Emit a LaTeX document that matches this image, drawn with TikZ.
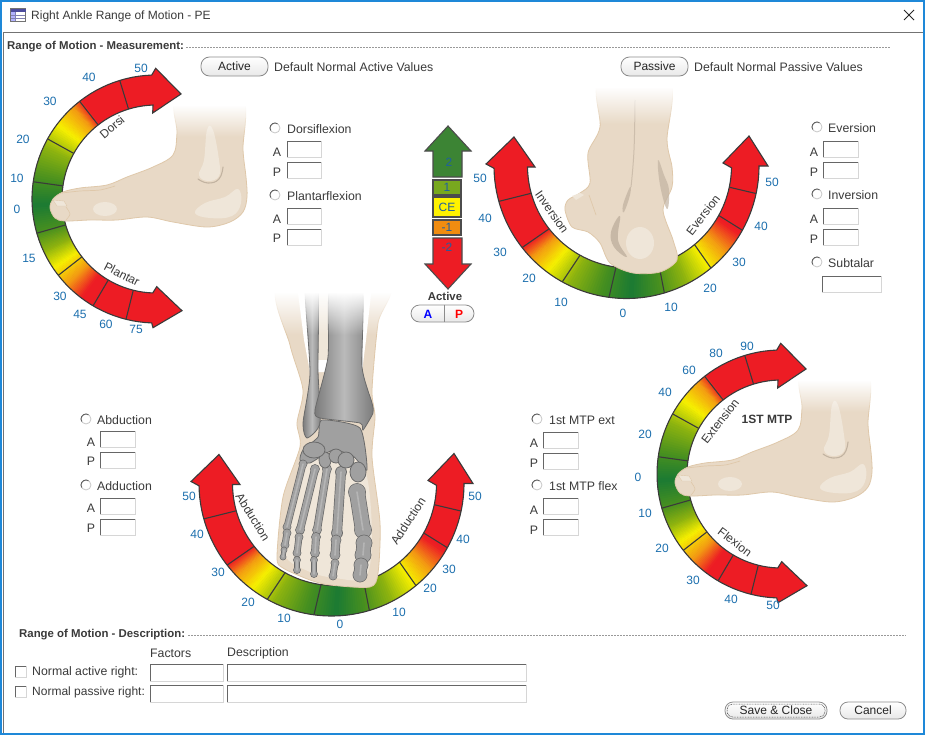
\documentclass[tikz,border=0pt]{standalone}
\usepackage{fontspec}
\setmainfont{Liberation Sans}
\usetikzlibrary{fadings}
\definecolor{gred}{HTML}{ED1C24}
\definecolor{gorange}{HTML}{F39A12}
\definecolor{gyellow}{HTML}{F6F000}
\definecolor{glime}{HTML}{8DB30F}
\definecolor{gmid}{HTML}{48901F}
\definecolor{gdark}{HTML}{1B7A33}
\definecolor{goutline}{HTML}{3A3A3A}
\definecolor{numblue}{HTML}{1C6FAE}
\definecolor{legblue}{HTML}{1F5FA0}
\definecolor{legend2}{HTML}{3C8434}
\definecolor{legend1}{HTML}{78A81E}
\definecolor{legendm}{HTML}{F08C10}
\definecolor{txt}{HTML}{3A3A3A}
\definecolor{skin}{HTML}{E8D9C6}
\definecolor{skinedge}{HTML}{DFC8AA}
\definecolor{skinlight}{HTML}{EFE6D9}
\definecolor{skinshade}{HTML}{C2B3A1}
\definecolor{bonefill}{HTML}{A0A0A0}
\definecolor{bonelight}{HTML}{BEBEBE}
\definecolor{boneedge}{HTML}{6A6A6A}
\definecolor{bluewin}{HTML}{1E88D8}
\tikzset{
  lab/.style={font=\fontsize{12.3}{14}\selectfont,inner sep=0pt,text=txt},
  labw/.style={lab,anchor=west},
  labbold/.style={font=\bfseries\fontsize{11.4}{14}\selectfont,inner sep=0pt,text=txt},
  num/.style={font=\fontsize{12}{14}\selectfont,inner sep=0pt,text=numblue},
  gtxt/.style={font=\fontsize{12}{14}\selectfont,inner sep=0pt,text=txt},
  gline/.style={draw=goutline,line width=1.1pt},
  btn/.style={draw=black!45,line width=.8pt,rounded corners=8.5pt,top color=white,bottom color=black!9,
     minimum height=19pt,inner sep=0pt,font=\fontsize{12}{14}\selectfont,text=black!85},
  dashrule/.style={draw=black!40,line width=.5pt,dash pattern=on 2pt off 1pt},
  skinpath/.style={fill=skin,draw=skinedge,line width=.8pt},
  lbox/.style={draw=black!70,line width=1.1pt},
  legbox/.style={draw=black!70,line width=1.1pt,minimum width=28pt,inner sep=0pt,font=\fontsize{12}{14}\selectfont,text=legblue},
  bonepath/.style={left color=black!52,right color=black!52,middle color=black!27,draw=boneedge,line width=.8pt},
  tarsal/.style={fill=bonefill,draw=boneedge,line width=.8pt},
}
\newcommand\gslices[7]{%
  \foreach \aa/\ca/\ab/\cb in {#7}{%
    \foreach \t in {0,...,11}{%
      \pgfmathsetmacro\pa{\aa+(\ab-\aa)*\t/12}%
      \pgfmathsetmacro\pb{\aa+(\ab-\aa)*(\t+1.25)/12}%
      \pgfmathsetmacro\pc{\t*100/12+4}%
      \fill[fill={\cb!\pc!\ca}] ({#1+(#3)*cos(\pa)},{#2-(#3)*sin(\pa)}) -- ({#1+(#3)*cos(\pb)},{#2-(#3)*sin(\pb)})
        -- ({#4+(#6)*cos(\pb)},{#5-(#6)*sin(\pb)}) -- ({#4+(#6)*cos(\pa)},{#5-(#6)*sin(\pa)}) -- cycle;
    }%
  }%
}
\newcommand\gticks[7]{%
  \foreach \a in {#7}{\draw[gline] ({#1+(#3)*cos(\a)},{#2-(#3)*sin(\a)}) -- ({#4+(#6)*cos(\a)},{#5-(#6)*sin(\a)});}%
}
\def\sidepath{(155.7,68.3) -- (181,94) -- (152.7,113) -- (153,105)
  -- plot[domain=92:268,samples=60] ({156+94*cos(\x)},{199-94*sin(\x)})
  -- (156.7,286.7) -- (182,310.7) -- (153,327.7)
  -- plot[domain=268:92,samples=60] ({156+124*cos(\x)},{199-124*sin(\x)}) -- cycle}
\def\upath{(514,137) -- (535,167) -- (527.5,167)
  -- plot[domain=181:359,samples=70] ({629.5+102*cos(\x)},{166-102*sin(\x)})
  -- (723,163) -- (749,136) -- (768,166) -- (759,166)
  -- plot[domain=359:181,samples=70] ({626.5+132.5*cos(\x)},{166-132.5*sin(\x)}) -- (486,164) -- cycle}
\newcommand\sidegauge{%
  \fill[gred] \sidepath;
  \gslices{156}{199}{124}{156}{199}{94}{127/gred/132/gorange,132/gorange/143/gyellow,143/gyellow/155/glime,155/glime/170/gmid,170/gmid/183/gdark,183/gdark/196/gmid,196/gmid/205/glime,205/glime/214/gyellow,214/gyellow/224/gorange,224/gorange/233/gred}
  \draw[gline] \sidepath;
  \gticks{156}{199}{124}{156}{199}{94}{107,128,151,172,196,218,239.5,256}
}
\newcommand\ugauge{%
  \fill[gred] \upath;
  \gslices{626.5}{166}{132.5}{629.5}{166}{102}{218/gred/224/gorange,224/gorange/233/gyellow,233/gyellow/244/glime,244/glime/258/gmid,258/gmid/272/gdark,272/gdark/285/gmid,285/gmid/297/glime,297/glime/309/gyellow,309/gyellow/319/gorange,319/gorange/329/gred}
  \draw[gline] \upath;
  \gticks{626.5}{166}{132.5}{629.5}{166}{102}{195.5,218,241,262.4,286.6,309.6,331,348}
}
\newcommand\sidefoot{%
  \begin{scope}
  \clip (40,106) rectangle (256,236);
  \path[skinpath] plot[smooth cycle,tension=.55] coordinates{(178,96)(177,133)(173,155)(153,167)(127,177)(107,185)(80,188)(63,192)(53,199)(50,208)(55,218)(65,221)(90,220)(117,220)(147,217)(173,222)(207,227)(230,222)(243,212)(247,197)(246,177)(243,150)(241,96)};
  \end{scope}
  \fill[skinlight] plot[smooth cycle,tension=.7] coordinates{(195,213)(205,203)(225,197)(238,189)(241,203)(232,216)(210,218)};
  \fill[skinlight] (105,209) ellipse (12pt and 7pt);
  \fill[skinlight] plot[smooth cycle,tension=.7] coordinates{(207,130)(204,160)(199,175)(208,181)(219,176)(219,160)(213,130)};
  \draw[skinshade,line width=1.1pt,line cap=round] plot[smooth,tension=.8] coordinates{(198,179)(208,183)(219,179)(223,167)};
  \fill[skinlight,draw=skinedge,line width=.4pt] (53,200) -- (64,201) -- (67,206) -- (57,206) -- cycle;
  \draw[skinedge,line width=.7pt] plot[smooth] coordinates{(62,193)(80,191)(100,190)(115,186)};
  \draw[skinedge,line width=.6pt] plot[smooth] coordinates{(66,207)(70,214)(66,220)};
  \fill[white,path fading=south] (170,105) rectangle (252,137);
}
\newcommand\inbox[4]{%
  \fill[white] (#1,#2) rectangle (#3,#4);
  \draw[black!16,line width=.9pt] (#3,#2) -- (#3,#4) -- (#1,#4);
  \draw[black!60,line width=1pt] (#1,#4) -- (#1,#2) -- (#3,#2);
}
\newcommand\radio[2]{%
  \fill[white] (#1,#2) circle (5pt);
  \draw[black!22,line width=.8pt] (#1,#2) circle (5pt);
  \draw[black!62,line width=.9pt] ({#1+5*cos(60)},{#2-5*sin(60)}) -- ({#1+5*cos(90)},{#2-5}) -- ({#1+5*cos(120)},{#2-5*sin(120)}) -- ({#1+5*cos(150)},{#2-5*sin(150)}) -- ({#1-5},#2) -- ({#1+5*cos(210)},{#2-5*sin(210)});
}
\newcommand\bone[5]{%
  \fill[boneedge] (#1,#2) circle ({#5/2+1.4}) (#3,#4) circle ({#5/2+1.4});
  \draw[boneedge,line width=#5pt+1pt,line cap=round] (#1,#2) -- (#3,#4);
  \fill[bonefill] (#1,#2) circle ({#5/2+.7}) (#3,#4) circle ({#5/2+.7});
  \draw[bonefill,line width=#5pt-.4pt,line cap=round] (#1,#2) -- (#3,#4);
  \draw[bonelight,line width=1.6pt,line cap=round,opacity=.7] (#1,#2) -- (#3,#4);
}
\begin{document}
\begin{tikzpicture}[x=1pt,y=-1pt]
\useasboundingbox (0,0) rectangle (925,736);
\fill[white] (0,0) rectangle (925,736);
% window frame
\draw[bluewin,line width=1.2pt] (1,734) -- (1,1) -- (924,1) -- (924,734) -- cycle;
\draw[black!55,line width=1pt] (3.5,733) -- (3.5,32.5) -- (923,32.5);
% title bar
\draw[black!55,fill=white,line width=.6pt] (10.5,8.5) rectangle (25.5,21.5);
\fill[blue!45!black!70] (10.5,8.5) rectangle (25.5,11.5);
\fill[blue!30] (11,12) rectangle (15,21);
\draw[blue!40!black!50,line width=.5pt] (15.5,12) -- (15.5,21) (11,15) -- (25,15) (11,18) -- (25,18);
\node[labw,font=\fontsize{12}{14}\selectfont] (title) at (31,16) {Right Ankle Range of Motion - PE};
\draw[black!85,line width=.9pt] (904,10) -- (914,20) (914,10) -- (904,20);
% headers
\node[labbold,anchor=west] (hmeas) at (7,47) {Range of Motion - Measurement:};
\draw[dashrule] (hmeas.east) ++(2,0) -- (891,47);
\node[btn,minimum width=67pt] (bactive) at (234.5,66.5) {Active};
\node[labw] (dactive) at (274,67) {Default Normal Active Values};
\node[btn,minimum width=67pt] (bpassive) at (654.5,66.5) {Passive};
\node[labw] (dpassive) at (694,67) {Default Normal Passive Values};

% gauges
\sidegauge
\begin{scope}[shift={(625,275)}]\sidegauge\end{scope}
\ugauge
\begin{scope}[shift={(-295,317.5)}]\ugauge\end{scope}

% side feet
\sidefoot
\begin{scope}[shift={(625,275)}]\sidefoot\end{scope}

% back foot
\begin{scope}
\clip (555,88) rectangle (690,285);
\path[skinpath] plot[smooth cycle,tension=.5] coordinates{(600,80)(600,127)(588,153)(590,183)(580,193)(568,200)(565,210)(572,227)(588,232)(600,243)(610,263)(633,273)(660,272)(677,260)(673,240)(663,210)(672,187)(672,167)(667,140)(669,80)};
\end{scope}
\fill[skinlight] (640,243) ellipse (14pt and 16pt);
\fill[skinlight] (572,196) -- (580,193) -- (584,195) -- (576,200) -- cycle;
\fill[skinshade,opacity=.75] plot[smooth cycle,tension=.7] coordinates{(630,187)(623,205)(624,212)(630,195)};
\draw[skinshade,line width=1pt,opacity=.7] plot[smooth,tension=.7] coordinates{(635,100)(634,150)(631,187)};
\fill[skinshade,opacity=.85] plot[smooth cycle,tension=.7] coordinates{(620,216)(611,232)(614,247)(627,257)(618,240)};
\fill[skinshade,opacity=.7] plot[smooth cycle,tension=.7] coordinates{(658,160)(660,185)(667,209)(669,190)(664,175)};
\draw[skinedge,line width=.7pt] (589,195) -- (596,215);
\fill[white,path fading=south] (592,87) rectangle (677,124);

% front foot with skeleton
\begin{scope}
\clip (270,293) rectangle (395,595);
\path[skinpath] plot[smooth cycle,tension=.45] coordinates{(279,285)(290,345)(303,390)(297,423)(300,447)(283,497)(277,557)(283,568)(310,580)(330,585)(370,587)(378,573)(380,523)(372,457)(375,417)(372,390)(378,323)(387,285)};
\fill[white] (297,285) -- (304,340) -- (310,372) -- (362,372) -- (366,340) -- (372,285) -- cycle;
\fill[skinlight] (318,285) rectangle (330,360);
\fill[skinlight] plot[smooth cycle,tension=.5] coordinates{(300,470)(292,510)(285,555)(310,572)(335,578)(365,578)(372,540)(365,470)(330,430)};
\path[bonepath] plot[smooth cycle,tension=.4] coordinates{(305,285)(310,373)(303,423)(307,438)(320,423)(318,370)(318,285)};
\path[tarsal] plot[smooth cycle,tension=.35] coordinates{(318,437)(303,450)(300,460)(310,463)(333,450)(353,456)(367,470)(360,428)(322,420)};
\path[bonepath] plot[smooth cycle,tension=.35] coordinates{(330,285)(328,357)(315,410)(320,418)(360,423)(363,430)(373,413)(372,403)(362,367)(362,285)};
\end{scope}
% metatarsals and phalanges
\bone{303}{464}{287}{527}{6}
\bone{287}{533}{285}{545}{6}
\bone{284}{550}{283}{557}{4}
\bone{315}{469}{300}{530}{7}
\bone{299}{537}{297}{553}{6}
\bone{297}{560}{297}{570}{5}
\bone{327}{469}{317}{530}{7}
\bone{316}{537}{315}{553}{7}
\bone{314}{560}{314}{574}{5}
\bone{341}{472}{337}{533}{9}
\bone{336}{540}{335}{555}{8}
\bone{335}{563}{333}{576}{6}
\bone{357}{492}{363}{530}{15}
\bone{364}{543}{363}{555}{14}
\bone{361}{565}{360}{575}{12}
% tarsals
\path[tarsal] (325,460) ellipse (6pt and 8pt);
\path[tarsal] (336,456) ellipse (7pt and 7pt);
\path[tarsal] (346,460) ellipse (8pt and 8pt);
\path[tarsal] (358,472) ellipse (8pt and 10pt);
\path[tarsal] (314,450) ellipse (11pt and 8pt);
\fill[white,path fading=south] (272,292) rectangle (394,335);

% gauge labels
\foreach \x/\y/\t [count=\i] in {141/68/50,89/77/40,50/101/30,23/139/20,17/178/10,17/209/0,29/258/15,60/296/30,80/314/45,106/324/60,136/329/75}
  \node[num] (da\i) at (\x,\y) {\t};
\foreach \x/\y/\t [count=\i] in {747/346/90,716/353/80,689/370/60,665/392/40,645/434/20,638/477/0,645/513/10,662/548/20,693/580/30,731/599/40,773/605/50}
  \node[num] (mt\i) at (\x,\y) {\t};
\foreach \x/\y/\t [count=\i] in {480/178/50,485/218/40,500/252/30,529/278/20,561/302/10,623/313/0,671/307/10,710/288/20,739/262/30,761/226/40,772/182/50}
  \node[num] (ie\i) at (\x,\y) {\t};
\foreach \x/\y/\t [count=\i] in {189/496/50,197/534/40,218/572/30,248/602/20,284/618/10,340/624/0,399/612/10,430/588/20,449/569/30,463/539/40,475/496/50}
  \node[num] (ab\i) at (\x,\y) {\t};
\node[gtxt,rotate=40] (tdorsi) at (112,127) {Dorsi};
\node[gtxt,rotate=-27] (tplantar) at (122,274) {Plantar};
\node[gtxt,rotate=-55] (tinv) at (552,212) {Inversion};
\node[gtxt,rotate=52] (tev) at (703,215) {Eversion};
\node[gtxt,rotate=-58] (tabd) at (253,517) {Abduction};
\node[gtxt,rotate=57] (tadd) at (408,521) {Adduction};
\node[gtxt,rotate=52] (text) at (720,421) {Extension};
\node[gtxt,rotate=-37] (tflex) at (735,542) {Flexion};
\node[labbold,font=\bfseries\fontsize{12}{14}\selectfont] (tmtp) at (767,419.5) {1ST MTP};

% input groups
\radio{275}{128}\node[labw] (rdors) at (287,129) {Dorsiflexion};
\node[lab] (a1) at (277,152) {A}; \inbox{287}{141}{321}{157}
\node[lab] (p1) at (277,172) {P}; \inbox{287}{162}{321}{178}
\radio{275}{195}\node[labw] (rplan) at (287,196) {Plantarflexion};
\node[lab] (a2) at (277,219) {A}; \inbox{287}{208}{321}{224}
\node[lab] (p2) at (277,238) {P}; \inbox{287}{229}{321}{245}

\radio{817}{127}\node[labw] (reve) at (828,128) {Eversion};
\node[lab] (a3) at (814,152) {A}; \inbox{823}{141}{858}{157}
\node[lab] (p3) at (814,172) {P}; \inbox{823}{162}{858}{178}
\radio{817}{194}\node[labw] (rinv) at (828,195) {Inversion};
\node[lab] (a4) at (814,219) {A}; \inbox{823}{208}{858}{224}
\node[lab] (p4) at (814,239) {P}; \inbox{823}{229}{858}{245}
\radio{817}{262}\node[labw] (rsub) at (828,263) {Subtalar};
\inbox{822}{276}{881}{292}

\radio{86}{419}\node[labw] (rabd) at (97,420) {Abduction};
\node[lab] (a5) at (91,442) {A}; \inbox{100}{431}{135}{447}
\node[lab] (p5) at (91,461) {P}; \inbox{100}{452}{135}{468}
\radio{86}{485}\node[labw] (radd) at (97,486) {Adduction};
\node[lab] (a6) at (91,508) {A}; \inbox{100}{498}{135}{514}
\node[lab] (p6) at (91,528) {P}; \inbox{100}{519}{135}{535}

\radio{537}{419}\node[labw] (rmtpe) at (549,420) {1st MTP ext};
\node[lab] (a7) at (534,443) {A}; \inbox{543}{432}{578}{448}
\node[lab] (p7) at (534,463) {P}; \inbox{543}{453}{578}{469}
\radio{537}{485}\node[labw] (rmtpf) at (549,486) {1st MTP flex};
\node[lab] (a8) at (534,510) {A}; \inbox{543}{498}{578}{514}
\node[lab] (p8) at (534,530) {P}; \inbox{543}{519}{578}{535}

% legend
\draw[lbox,fill=legend2] (448,126) -- (471,151) -- (462,151) -- (462,177) -- (433,177) -- (433,151) -- (425,151) -- cycle;
\node[num,text=legblue] (l2) at (449,162) {2};
\node[legbox,fill=legend1,minimum height=15pt] (l1) at (447,187.5) {1};
\node[legbox,fill=yellow,minimum height=20pt] (lce) at (447,207) {CE};
\node[legbox,fill=legendm,minimum height=15pt] (lm1) at (447,227.5) {-1};
\draw[lbox,fill=gred] (433,238) -- (462,238) -- (462,264) -- (471,264) -- (448,289) -- (425,264) -- (433,264) -- cycle;
\node[num,text=legblue] (lm2) at (447,247) {-2};
\node[labbold] (lact) at (445,296) {Active};
\node[btn,minimum width=63pt,minimum height=17pt] (toggle) at (442.5,313.5) {};
\draw[black!45,line width=.9pt] (toggle.north) ++(1.5,0) -- ++(0,17);
\node[font=\bfseries\fontsize{12}{14}\selectfont,inner sep=0pt,text=blue] (ta) at (428,314.5) {A};
\node[font=\bfseries\fontsize{12}{14}\selectfont,inner sep=0pt,text=red] (tp) at (459,314.5) {P};

% description
\node[labbold,anchor=west] (hdesc) at (19,635) {Range of Motion - Description:};
\draw[dashrule] (hdesc.east) ++(3,0) -- (906,635);
\node[labw] (hfac) at (150,653) {Factors};
\node[labw] (hdes) at (227,653) {Description};
\inbox{15}{666}{26}{677}
\node[labw] (nact) at (32,672) {Normal active right:};
\inbox{150}{664}{223}{681}
\inbox{227}{664}{526}{681}
\inbox{15}{686}{26}{697}
\node[labw,font=\fontsize{12}{14}\selectfont] (npas) at (32,692) {Normal passive right:};
\inbox{150}{685}{223}{702}
\inbox{227}{685}{526}{702}
\node[btn,minimum width=102pt,minimum height=17pt,rounded corners=8pt] (bsave) at (776,710.5) {Save \& Close};
\draw[black!80,line width=.5pt,dash pattern=on .8pt off .8pt,rounded corners=6pt] (727,704) rectangle (825,717);
\node[btn,minimum width=66pt,minimum height=17pt,rounded corners=8pt] (bcancel) at (873,710.5) {Cancel};
\end{tikzpicture}
\end{document}
